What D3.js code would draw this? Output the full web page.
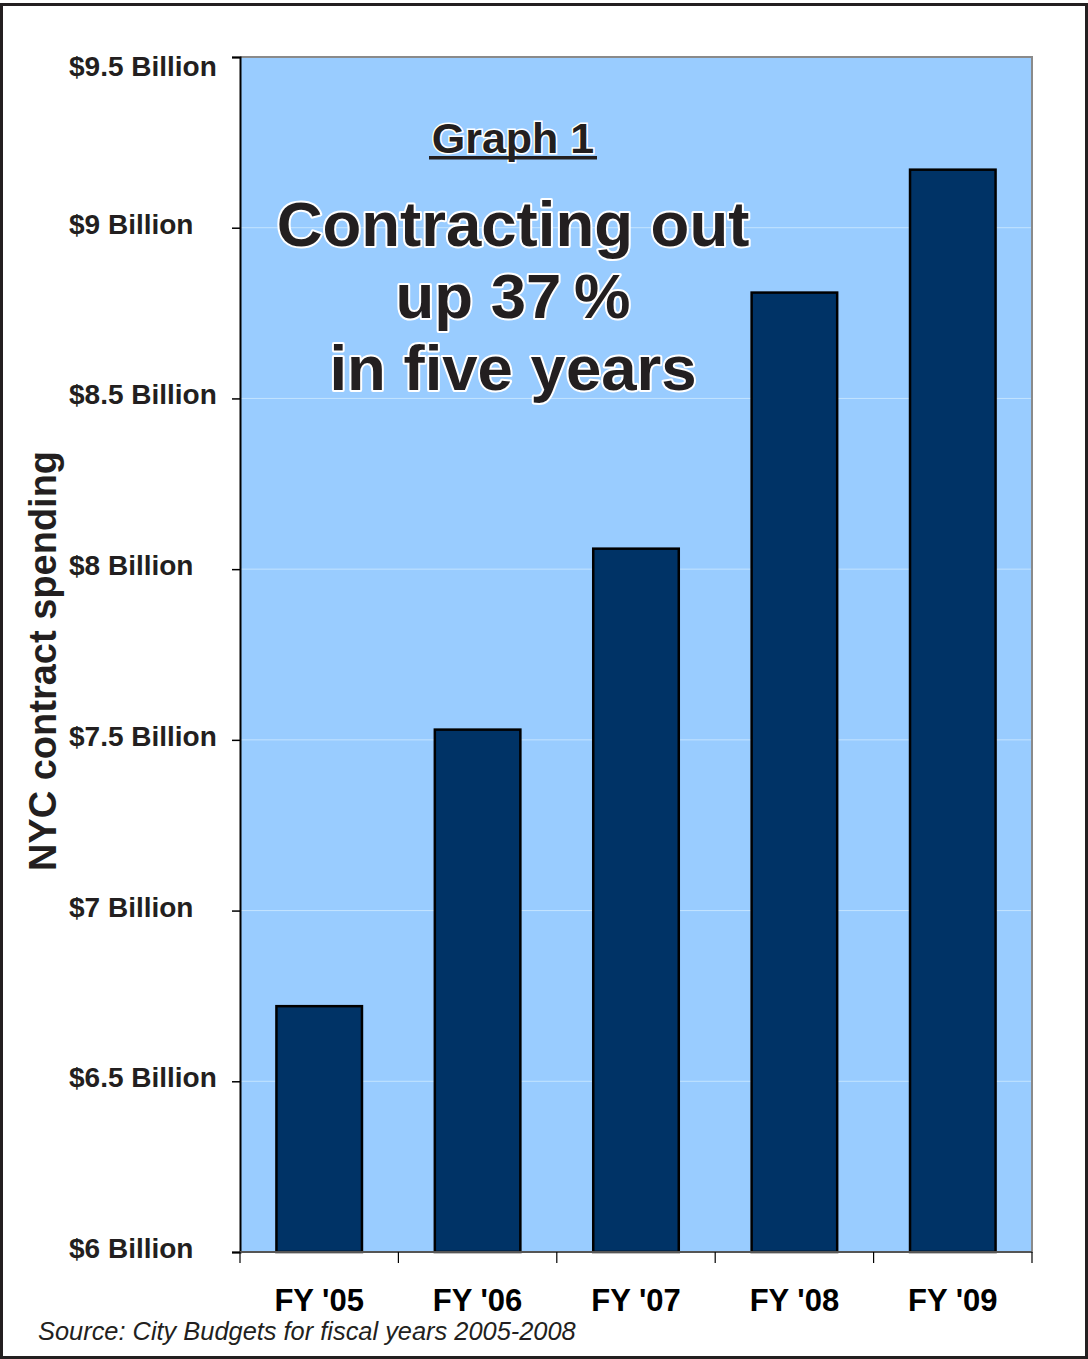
<!DOCTYPE html>
<html><head><meta charset="utf-8">
<script src="https://cdn.jsdelivr.net/npm/d3@7"></script>
<style>
html,body{margin:0;padding:0;background:#fff;}
svg text{font-family:"Liberation Sans",Arial,sans-serif;}
</style></head>
<body>
<svg id="c" width="1088" height="1359"></svg>
<script>
const categories = ["FY '05","FY '06","FY '07","FY '08","FY '09"];
const values = [6.72, 7.53, 8.06, 8.81, 9.17];
const yTicks = [6, 6.5, 7, 7.5, 8, 8.5, 9, 9.5];
const yTickLabels = ["$6 Billion","$6.5 Billion","$7 Billion","$7.5 Billion","$8 Billion","$8.5 Billion","$9 Billion","$9.5 Billion"];
const titleLines = ["Contracting out","up 37\u2009%","in five years"];

const svg = d3.select("#c");
const L=240, R=1032, T=57, B=1252;
const x = d3.scaleBand().domain(categories).range([L,R]).paddingInner(0.46).paddingOuter(0.23);
const y = d3.scaleLinear().domain([6,9.5]).range([B,T]);
const ink = "#231f20";

// outer frame
svg.append("rect").attr("x",1.5).attr("y",4.5).attr("width",1085).attr("height",1353)
  .attr("fill","#fff").attr("stroke",ink).attr("stroke-width",3);

// plot background
svg.append("rect").attr("x",L).attr("y",T).attr("width",R-L).attr("height",B-T)
  .attr("fill","#99ccff");

// gridlines
svg.append("g").selectAll("line").data(yTicks.filter(d=>d>6 && d<9.5)).join("line")
  .attr("x1",L).attr("x2",R).attr("y1",d=>y(d)).attr("y2",d=>y(d))
  .attr("stroke","#c4e4ff").attr("stroke-width",1);

// plot border (top/right/bottom grey)
svg.append("path").attr("d",`M${L},${T}H${R}V${B}H${L}`).attr("fill","none")
  .attr("stroke","#8a8a8a").attr("stroke-width",2);

// bars
svg.append("g").selectAll("rect").data(values).join("rect")
  .attr("x",(d,i)=>x(categories[i]))
  .attr("y",d=>y(d))
  .attr("width",x.bandwidth())
  .attr("height",d=>B-y(d))
  .attr("fill","#003366").attr("stroke","#000").attr("stroke-width",2.5);

// y axis
const yAxis = d3.axisLeft(y).tickValues(yTicks).tickSize(8).tickFormat("");
const gy = svg.append("g").attr("transform",`translate(${L},0)`).call(yAxis);
gy.select(".domain").attr("stroke","#000").attr("stroke-width",2);
gy.selectAll(".tick line").attr("stroke","#000").attr("stroke-width",1.5);
svg.append("g").selectAll("text").data(yTicks).join("text")
  .attr("x",69).attr("y",(d,i)=>Math.max(y(d)+6, 76))
  .attr("font-size",28).attr("font-weight","bold").attr("fill",ink)
  .text((d,i)=>yTickLabels[i]);

// x axis line and ticks at category boundaries
const step = x.step();
const bounds = d3.range(categories.length+1).map(i=>L+i*step);
svg.append("line").attr("x1",L).attr("x2",R).attr("y1",B).attr("y2",B)
  .attr("stroke","#555").attr("stroke-width",2);
svg.append("g").selectAll("line").data(bounds).join("line")
  .attr("x1",d=>d).attr("x2",d=>d).attr("y1",B).attr("y2",B+11)
  .attr("stroke","#000").attr("stroke-width",1.2);
svg.append("g").selectAll("text").data(categories).join("text")
  .attr("x",d=>x(d)+x.bandwidth()/2).attr("y",1311)
  .attr("text-anchor","middle").attr("font-size",31).attr("font-weight","bold").attr("fill","#000")
  .text(d=>d);

// y axis title
svg.append("text").attr("transform","translate(56,661) rotate(-90)")
  .attr("text-anchor","middle").attr("font-size",38).attr("font-weight","bold").attr("fill",ink)
  .text("NYC contract spending");

// source
svg.append("text").attr("x",38).attr("y",1340)
  .attr("font-size",25.4).attr("font-style","italic").attr("fill",ink)
  .text("Source: City Budgets for fiscal years 2005-2008");

// Graph 1 heading
const cx = 513;
svg.append("text").attr("x",cx).attr("y",153).attr("text-anchor","middle")
  .attr("font-size",43).attr("font-weight","bold").attr("fill",ink)
  .attr("stroke","#fff").attr("stroke-width",3).attr("paint-order","stroke")
  .text("Graph 1");
svg.append("rect").attr("x",429).attr("y",156).attr("width",168).attr("height",3.5).attr("fill",ink);

// big title
svg.append("g").selectAll("text").data(titleLines).join("text")
  .attr("x",cx).attr("y",(d,i)=>246+i*72).attr("text-anchor","middle")
  .attr("font-size",63.5).attr("font-weight","bold").attr("fill",ink)
  .attr("stroke","#fff").attr("stroke-width",4).attr("paint-order","stroke")
  .attr("stroke-linejoin","round")
  .text(d=>d);
</script>
</body></html>
